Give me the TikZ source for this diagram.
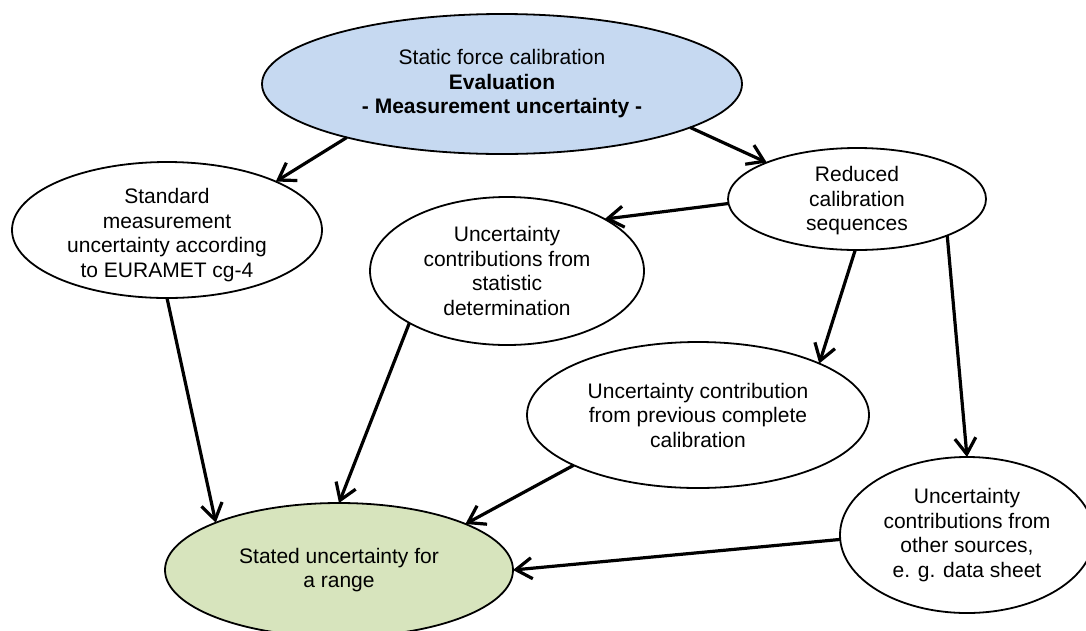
\documentclass[tikz,border=0pt]{standalone}
\usepackage{fontspec}
\setmainfont{Liberation Sans}
\usetikzlibrary{shapes.geometric,arrows.meta}
\definecolor{topblue}{RGB}{198,217,241}
\definecolor{stgreen}{RGB}{215,228,189}
\begin{document}
\begin{tikzpicture}[x=1pt,y=-1pt,
  ell/.style={ellipse,draw=black,line width=1.8pt,inner sep=0pt,outer sep=0pt,fill=white},
  txt/.style={align=center,font=\fontsize{21}{24.5}\selectfont,inner sep=0pt},
  conn/.style={line width=3.2pt,-{Straight Barb[length=16pt,width=21pt]}}]
\clip (0,0) rectangle (1086,630);
\fill[white] (0,0) rectangle (1086,630);
% ellipses
\node[ell,fill=topblue,minimum width=480pt,minimum height=140pt] (top) at (502,84) {};
\node[ell,minimum width=310pt,minimum height=136pt] (std) at (167,230) {};
\node[ell,minimum width=258pt,minimum height=102pt] (red) at (857,199) {};
\node[ell,minimum width=274pt,minimum height=148pt] (stat) at (507,271) {};
\node[ell,minimum width=342pt,minimum height=146pt] (prev) at (698,415) {};
\node[ell,minimum width=254pt,minimum height=156pt] (oth) at (967,535) {};
\node[ell,fill=stgreen,minimum width=348pt,minimum height=134pt] (stl) at (339,570) {};
% texts
\node[txt] (topT) at (top) {Static force calibration\\\textbf{Evaluation}\\\textbf{- Measurement uncertainty -}};
\node[txt] (stdT) at (167,235) {Standard\\measurement\\uncertainty according\\to EURAMET cg-4};
\node[txt] (redT) at (857,201) {Reduced\\calibration\\sequences};
\node[txt] (statT) at (stat) {Uncertainty\\contributions from\\statistic\\determination};
\node[txt] (prevT) at (prev) {Uncertainty contribution\\from previous complete\\calibration};
\node[txt] (othT) at (oth) {Uncertainty\\contributions from\\other sources,\\e. g. data sheet};
\node[txt] (stlT) at (stl) {Stated uncertainty for\\a range};
% connectors
\draw[conn] (top.199) -- (std.24);
\draw[conn] (top.347) -- (red.158);
\draw[conn] (red.182) -- (stat.28);
\draw[conn] (red.268) -- (prev.23);
\draw[conn] (red.338) -- (oth.90);
\draw[conn] (std.270) -- (stl.159);
\draw[conn] (stat.208) -- (stl.90);
\draw[conn] (prev.202) -- (stl.20);
\draw[conn] (oth.182) -- (stl.0);
\end{tikzpicture}
\end{document}
